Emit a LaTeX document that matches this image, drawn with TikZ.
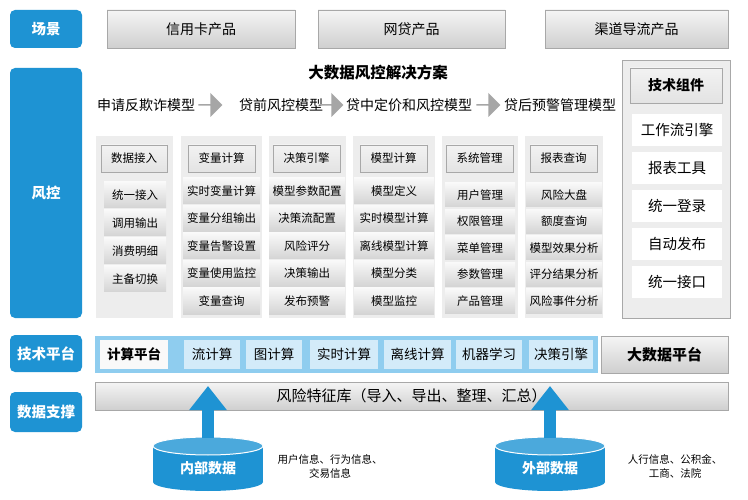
\documentclass[tikz,border=0pt]{standalone}
\usepackage{fontspec}
\setmainfont{Noto Sans CJK SC}
\usetikzlibrary{arrows.meta,shapes.arrows,shapes.geometric}
\definecolor{blu}{HTML}{1E93D3}
\definecolor{lblu}{HTML}{8FCDEF}
\definecolor{pblu}{HTML}{D3EBF9}
\definecolor{gbox}{HTML}{E3E3E3}
\definecolor{gpan}{HTML}{EDEDED}
\definecolor{gedge}{HTML}{A8A8A8}
\tikzset{
 lab/.style={fill=blu,rounded corners=5pt,text=white,font=\bfseries\fontsize{14.5}{15}\selectfont},
 gray/.style={top color=white!92!gray,bottom color=gbox!80!gray,draw=gedge,font=\fontsize{14}{14}\selectfont},
 pan/.style={fill=gpan,draw=white},
 hdr/.style={top color=white!90!gray,bottom color=gbox,draw=gedge,line width=0.8pt,font=\fontsize{11.5}{12}\selectfont},
 itm/.style={top color=white!95!gray,bottom color=gbox!85!gray,font=\fontsize{11.5}{12}\selectfont},
 tp/.style={fill=pblu,font=\fontsize{13.5}{14}\selectfont},
 mdl/.style={font=\fontsize{14}{14}\selectfont,inner sep=0},
 chev/.style={single arrow,fill=gray!70,minimum height=24pt,minimum width=24pt,single arrow head extend=3pt,inner sep=0},
}
\newcommand\bx[7]{%
 \pgfmathsetmacro\bxw{(#4)-(#2)}\pgfmathsetmacro\bxh{(#5)-(#3)}%
 \pgfmathsetmacro\bxcx{((#2)+(#4))/2}\pgfmathsetmacro\bxcy{((#3)+(#5))/2}%
 \node[#6,inner sep=0,minimum width=\bxw pt,minimum height=\bxh pt] (#1) at (\bxcx,\bxcy) {#7};}
\begin{document}
\begin{tikzpicture}[x=1pt,y=-1pt]
\useasboundingbox[fill=white] (0,0) rectangle (748,500);
% left labels
\bx{l1}{10}{10}{82}{48}{lab}{场景}
\bx{l2}{10}{68}{82}{318}{lab}{风控}
\bx{l3}{10}{335}{82}{372}{lab}{技术平台}
\bx{l4}{10}{392}{82}{432}{lab}{数据支撑}
% scene
\bx{s1}{107}{10}{295}{48}{gray}{信用卡产品}
\bx{s2}{318}{10}{505}{48}{gray}{网贷产品}
\bx{s3}{545}{10}{728}{48}{gray}{渠道导流产品}
% title
\node[font=\bfseries\fontsize{15.5}{16}\selectfont] (title) at (378,73) {大数据风控解决方案};
\node[mdl] (m1) at (146,105) {申请反欺诈模型};
\node[mdl] (m2) at (281,105) {贷前风控模型};
\node[mdl] (m3) at (409,105) {贷中定价和风控模型};
\node[mdl] (m4) at (560,105) {贷后预警管理模型};
\node[chev] (a1) at (210,105) {};
\node[chev] (a2) at (331,105) {};
\node[chev] (a3) at (488,105) {};
% columns
\bx{c1}{95}{135}{173}{318}{pan}{}
\bx{c2}{180}{135}{262}{318}{pan}{}
\bx{c3}{268}{135}{346}{318}{pan}{}
\bx{c4}{352}{135}{435}{318}{pan}{}
\bx{c5}{441}{135}{518}{318}{pan}{}
\bx{c6}{524}{135}{603}{318}{pan}{}
\bx{h1}{101}{145}{167}{172}{hdr}{数据接入}
\bx{h2}{188}{145}{255}{172}{hdr}{变量计算}
\bx{h3}{273}{145}{340}{172}{hdr}{决策引擎}
\bx{h4}{360}{145}{427}{172}{hdr}{模型计算}
\bx{h5}{446}{145}{513}{172}{hdr}{系统管理}
\bx{h6}{530}{145}{597}{172}{hdr}{报表查询}
\foreach \t [count=\i] in {统一接入,调用输出,消费明细,主备切换}
 {\bx{i1\i}{104}{182+(\i-1)*28}{166}{208+(\i-1)*28}{itm}{\t}}
\foreach \t [count=\i] in {实时变量计算,变量分组输出,变量告警设置,变量使用监控,变量查询}
 {\bx{i2\i}{183}{178+(\i-1)*27.5}{260}{204+(\i-1)*27.5}{itm}{\t}}
\foreach \t [count=\i] in {模型参数配置,决策流配置,风险评分,决策输出,发布预警}
 {\bx{i3\i}{269}{178+(\i-1)*27.5}{345}{204+(\i-1)*27.5}{itm}{\t}}
\foreach \t [count=\i] in {模型定义,实时模型计算,离线模型计算,模型分类,模型监控}
 {\bx{i4\i}{354}{178+(\i-1)*27.5}{434}{204+(\i-1)*27.5}{itm}{\t}}
\foreach \t [count=\i] in {用户管理,权限管理,菜单管理,参数管理,产品管理}
 {\bx{i5\i}{445}{183+(\i-1)*26.5}{515}{207+(\i-1)*26.5}{itm}{\t}}
\foreach \t [count=\i] in {风险大盘,额度查询,模型效果分析,评分结果分析,风险事件分析}
 {\bx{i6\i}{526}{183+(\i-1)*26.5}{602}{207+(\i-1)*26.5}{itm}{\t}}
% tech components
\bx{tc}{622}{60}{730}{318}{fill=gpan,draw=gedge}{}
\bx{tch}{630}{68}{722}{103}{hdr,font=\bfseries\fontsize{14}{14}\selectfont}{技术组件}
\foreach \t [count=\i] in {工作流引擎,报表工具,统一登录,自动发布,统一接口}
 {\bx{tc\i}{632}{114+(\i-1)*38}{722}{146+(\i-1)*38}{fill=white,font=\fontsize{14.5}{15}\selectfont}{\t}}
% tech platform
\bx{tpb}{95}{336}{598}{373}{fill=lblu}{}
\bx{t1}{100}{340}{168}{369}{fill=white!95!gray,font=\bfseries\fontsize{13.5}{14}\selectfont}{计算平台}
\bx{t2}{184}{340}{240}{369}{tp}{流计算}
\bx{t3}{246}{340}{302}{369}{tp}{图计算}
\bx{t4}{310}{340}{378}{369}{tp}{实时计算}
\bx{t5}{384}{340}{451}{369}{tp}{离线计算}
\bx{t6}{456}{340}{522}{369}{tp}{机器学习}
\bx{t7}{529}{340}{593}{369}{tp}{决策引擎}
\bx{bdp}{601}{336}{728}{373}{gray,font=\bfseries\fontsize{15}{15}\selectfont}{大数据平台}
% feature lib
\bx{fl}{95}{382}{728}{410}{gray,font=\fontsize{15}{15}\selectfont}{风险特征库（导入、导出、整理、汇总）}
% cylinders
\foreach \n/\cx/\t in {cin/208/内部数据,cex/550/外部数据}{
 \fill[blu] (\cx-55,446) rectangle (\cx+55,482);
 \fill[blu] (\cx,482) ellipse [x radius=55,y radius=9];
 \fill[blu!80!white,draw=white,line width=1pt] (\cx,446) ellipse [x radius=55,y radius=9];
 \node[text=white,font=\bfseries\fontsize{14}{14}\selectfont] (\n) at (\cx,468) {\t};
 \coordinate (\n top) at (\cx,438);
 \coordinate (\n tip) at (\cx,386);
 \draw[blu,line width=12pt,-{Triangle[width=36pt,length=24pt]}] (\n top) -- (\n tip);
}
\node[align=center,font=\fontsize{10.5}{14}\selectfont] (din) at (330,466) {用户信息、行为信息、\\交易信息};
\node[align=center,font=\fontsize{10.5}{14}\selectfont] (dex) at (675,466) {人行信息、公积金、\\工商、法院};
\end{tikzpicture}
\end{document}
